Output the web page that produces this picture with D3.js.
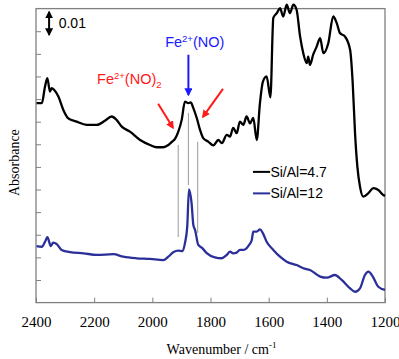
<!DOCTYPE html>
<html>
<head>
<meta charset="utf-8">
<script src="https://cdn.jsdelivr.net/npm/d3@7"></script>
<style>
  body { margin: 0; background: #fff; }
  svg { display: block; }
</style>
</head>
<body>
<svg id="chart" width="399" height="359"></svg>
<script>
// spectra (wavenumber / cm-1, absorbance)
const wnHigh = [2398, 2380, 2369, 2361, 2352, 2346, 2338, 2323, 2306, 2289, 2260, 2226, 2191, 2163, 2140, 2123, 2105, 2077, 2042, 2008, 1985, 1962, 1945, 1932, 1922, 1911, 1899, 1888, 1876, 1868, 1859, 1847, 1836, 1825, 1808, 1790, 1773, 1761, 1744, 1733, 1722, 1710, 1699, 1687, 1676, 1664, 1653, 1641, 1630, 1620, 1607, 1594, 1584, 1572, 1561, 1550, 1538, 1527, 1515, 1504, 1492, 1481, 1469, 1464, 1458, 1447, 1435, 1423, 1412, 1395, 1378, 1366, 1355, 1338, 1320, 1311, 1303, 1295, 1286, 1275, 1257, 1240, 1223, 1206, 1200];
const absHigh = [0.0882, 0.0882, 0.0955, 0.0992, 0.0933, 0.0948, 0.0941, 0.0911, 0.0852, 0.0815, 0.0800, 0.0786, 0.0786, 0.0804, 0.0823, 0.0808, 0.0778, 0.0756, 0.0719, 0.0697, 0.0687, 0.0687, 0.0697, 0.0712, 0.0724, 0.0755, 0.0808, 0.0889, 0.0882, 0.0885, 0.0860, 0.0815, 0.0764, 0.0727, 0.0712, 0.0695, 0.0719, 0.0705, 0.0742, 0.0734, 0.0773, 0.0749, 0.0800, 0.0786, 0.0823, 0.0793, 0.0817, 0.0719, 0.0882, 0.0976, 0.1000, 0.0908, 0.1259, 0.1280, 0.1302, 0.1265, 0.1317, 0.1280, 0.1317, 0.1295, 0.1177, 0.1103, 0.1059, 0.1088, 0.1051, 0.1096, 0.1132, 0.1169, 0.1103, 0.1147, 0.1265, 0.1236, 0.1192, 0.1177, 0.1118, 0.0970, 0.0749, 0.0601, 0.0513, 0.0469, 0.0484, 0.0506, 0.0498, 0.0476, 0.0472];

const wnLow = [2398, 2380, 2369, 2361, 2349, 2341, 2329, 2312, 2283, 2237, 2191, 2134, 2100, 2054, 2008, 1962, 1945, 1928, 1911, 1896, 1888, 1880, 1874, 1865, 1859, 1853, 1842, 1829, 1813, 1785, 1762, 1744, 1733, 1722, 1710, 1699, 1687, 1670, 1658, 1653, 1641, 1630, 1620, 1607, 1584, 1561, 1538, 1504, 1481, 1458, 1423, 1400, 1372, 1349, 1320, 1303, 1286, 1269, 1257, 1242, 1223, 1200];
const absLow = [0.0250, 0.0247, 0.0269, 0.0289, 0.0250, 0.0265, 0.0259, 0.0233, 0.0223, 0.0218, 0.0211, 0.0214, 0.0203, 0.0196, 0.0193, 0.0188, 0.0203, 0.0223, 0.0230, 0.0228, 0.0262, 0.0336, 0.0501, 0.0439, 0.0343, 0.0321, 0.0255, 0.0242, 0.0219, 0.0200, 0.0196, 0.0211, 0.0225, 0.0218, 0.0221, 0.0233, 0.0233, 0.0250, 0.0277, 0.0314, 0.0314, 0.0324, 0.0307, 0.0269, 0.0233, 0.0203, 0.0181, 0.0166, 0.0152, 0.0144, 0.0115, 0.0110, 0.0122, 0.0100, 0.0063, 0.0048, 0.0063, 0.0122, 0.0137, 0.0115, 0.0070, 0.0056];

const seriesNames = ["Si/Al=4.7", "Si/Al=12"];
const xTicks = [2400, 2200, 2000, 1800, 1600, 1400, 1200];
const yTicks = [0.01, 0.02, 0.03, 0.04, 0.05, 0.06, 0.07, 0.08, 0.09, 0.10, 0.11, 0.12];

// guide lines between the two spectra
const guideWn = [1911, 1876, 1844];
const guideTop = [0.0697, 0.0839, 0.0711];
const guideBottom = [0.0290, 0.0520, 0.0308];

const margin = {left: 36, top: 8.6, right: 14, bottom: 56.4};
const width = 399 - margin.left - margin.right;
const height = 359 - margin.top - margin.bottom;

const svg = d3.select('#chart');
const g = svg.append('g').attr('transform', `translate(${margin.left},${margin.top})`);

const x = d3.scaleLinear().domain([2400, 1200]).range([0, width]);
const y = d3.scaleLinear().domain([0, 0.13]).range([height, 0]);

const serif = '"Liberation Serif", "Times New Roman", serif';
const sans = '"Liberation Sans", Arial, sans-serif';
const frameColor = '#808080';

// axes
const xAxis = g.append('g')
  .attr('transform', `translate(0,${height})`)
  .call(d3.axisBottom(x).tickValues(xTicks).tickSize(-5).tickPadding(14).tickFormat(d3.format('d')));
xAxis.select('.domain').remove();
xAxis.selectAll('line').attr('stroke', frameColor);
xAxis.selectAll('text').attr('font-family', serif).attr('font-size', 15).attr('fill', '#000');

const yAxis = g.append('g')
  .call(d3.axisLeft(y).tickValues(yTicks).tickSize(-5).tickFormat(''));
yAxis.select('.domain').remove();
yAxis.selectAll('line').attr('stroke', frameColor);

g.append('rect')
  .attr('width', width).attr('height', height)
  .attr('fill', 'none').attr('stroke', frameColor).attr('stroke-width', 1.3);

// axis titles
const xt = svg.append('text')
  .attr('x', margin.left + width / 2 + 11).attr('y', 354)
  .attr('text-anchor', 'middle')
  .attr('font-family', serif).attr('font-size', 14);
xt.append('tspan').text('Wavenumber / cm');
xt.append('tspan').attr('dy', -6).attr('font-size', 9).text('-1');

svg.append('text')
  .attr('transform', `translate(19,${margin.top + height / 2 + 7}) rotate(-90)`)
  .attr('text-anchor', 'middle')
  .attr('font-family', serif).attr('font-size', 14)
  .text('Absorbance');

// guide lines
g.selectAll('.guide')
  .data(guideWn)
  .enter().append('line')
  .attr('x1', d => x(d)).attr('x2', d => x(d))
  .attr('y1', (d, i) => y(guideTop[i])).attr('y2', (d, i) => y(guideBottom[i]))
  .attr('stroke', '#8c8c8c').attr('stroke-width', 0.9);

// spectra
const line = d3.line().x(d => x(d[0])).y(d => y(d[1])).curve(d3.curveMonotoneX);
const colors = ['#000000', '#2b2f9a'];
[[wnHigh, absHigh], [wnLow, absLow]].forEach((s, i) => {
  g.append('path')
    .datum(s[0].map((w, j) => [w, s[1][j]]))
    .attr('fill', 'none')
    .attr('stroke', colors[i])
    .attr('stroke-width', 2.3)
    .attr('stroke-linejoin', 'round')
    .attr('d', line);
});

// legend
const legend = g.append('g');
seriesNames.forEach((name, i) => {
  const ly = y(0.0578) + i * 21.5;
  legend.append('line')
    .attr('x1', x(1654)).attr('x2', x(1595))
    .attr('y1', ly).attr('y2', ly)
    .attr('stroke', colors[i]).attr('stroke-width', 2);
  legend.append('text')
    .attr('x', x(1594)).attr('y', ly + 5)
    .attr('font-family', sans).attr('font-size', 14)
    .text(name);
});

// arrow markers
const defs = svg.append('defs');
function marker(id, color) {
  defs.append('marker')
    .attr('id', id).attr('viewBox', '0 0 10 10')
    .attr('refX', 8).attr('refY', 5)
    .attr('markerWidth', 4).attr('markerHeight', 4)
    .attr('orient', 'auto-start-reverse')
    .append('path').attr('d', 'M0,0 L10,5 L0,10 z').attr('fill', color);
}
marker('ar-red', '#ff1a1a');
marker('ar-blue', '#1a1aff');
marker('ar-black', '#000');

function arrow(w1, a1, w2, a2, color, id, both) {
  const l = g.append('line')
    .attr('x1', x(w1)).attr('y1', y(a1))
    .attr('x2', x(w2)).attr('y2', y(a2))
    .attr('stroke', color).attr('stroke-width', 2)
    .attr('marker-end', `url(#${id})`);
  if (both) l.attr('marker-start', `url(#${id})`);
}

// scale bar
arrow(2355, 0.1185, 2355, 0.1285, '#000', 'ar-black', true);
g.append('text')
  .attr('x', x(2322)).attr('y', y(0.1235) + 5)
  .attr('font-family', sans).attr('font-size', 14)
  .text('0.01');

// annotations
arrow(1876, 0.1096, 1876, 0.0919, '#1a1aff', 'ar-blue');
arrow(1980, 0.0879, 1929, 0.0773, '#ff1a1a', 'ar-red');
arrow(1757, 0.0945, 1826, 0.0821, '#ff1a1a', 'ar-red');

const t1 = g.append('text')
  .attr('x', x(2190)).attr('y', y(0.0967))
  .attr('font-family', sans).attr('font-size', 14.5).attr('fill', '#ff1a1a');
t1.append('tspan').text('Fe');
t1.append('tspan').attr('dy', -5).attr('font-size', 9.5).text('2+');
t1.append('tspan').attr('dy', 5).text('(NO)');
t1.append('tspan').attr('dy', 4).attr('font-size', 9.5).text('2');

const t2 = g.append('text')
  .attr('x', x(1956)).attr('y', y(0.1131))
  .attr('font-family', sans).attr('font-size', 14.5).attr('fill', '#1a1aff');
t2.append('tspan').text('Fe');
t2.append('tspan').attr('dy', -5).attr('font-size', 9.5).text('2+');
t2.append('tspan').attr('dy', 5).text('(NO)');
</script>
</body>
</html>
